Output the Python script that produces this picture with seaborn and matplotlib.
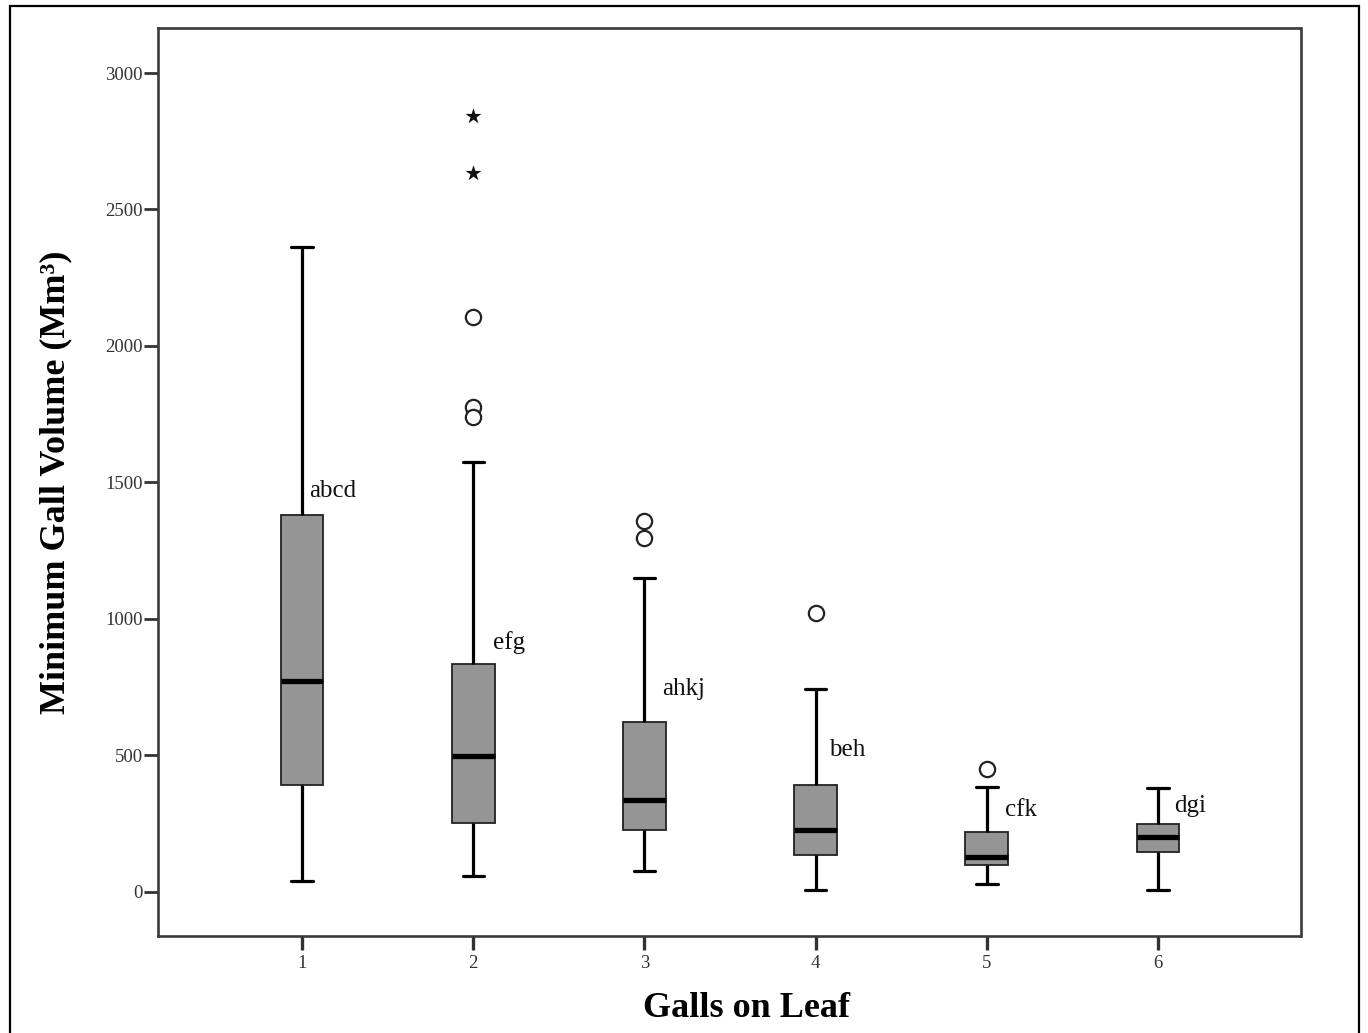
import matplotlib
matplotlib.use("Agg")
import matplotlib.pyplot as plt
from matplotlib.patches import Rectangle
import seaborn as sns
import pandas as pd

# ---- data ----
groups = ["1", "2", "3", "4", "5", "6"]
whisk_low = [38, 57, 75, 5, 29, 5]
q1 = [390, 251, 225, 134, 97, 145]
median = [772, 497, 335, 225, 128, 200]
q3 = [1380, 834, 621, 390, 218, 247]
whisk_high = [2362, 1574, 1149, 742, 384, 380]

circle_groups = ["2", "2", "2", "3", "3", "4", "5"]
circle_values = [2105, 1777, 1740, 1358, 1295, 1021, 449]
star_groups = ["2", "2"]
star_values = [2842, 2632]

letters = ["abcd", "efg", "ahkj", "beh", "cfk", "dgi"]
letter_y = [1468, 911, 742, 519, 299, 314]

# ---- style ----
sns.set_style("ticks")
plt.rcParams["font.family"] = ["Liberation Serif", "DejaVu Serif"]

rows = []
for g, a, b, c, d, e in zip(groups, whisk_low, q1, median, q3, whisk_high):
    for v in (a, b, c, d, e):
        rows.append({"galls": g, "volume": v})
df = pd.DataFrame(rows)
df_circ = pd.DataFrame({"galls": circle_groups, "volume": circle_values})
df_star = pd.DataFrame({"galls": star_groups, "volume": star_values})

fig = plt.figure(figsize=(13.68, 10.33), dpi=100)
ax = fig.add_axes([158 / 1368, 1 - 936 / 1033, (1300.5 - 158) / 1368, (936 - 28) / 1033])

sns.boxplot(data=df, x="galls", y="volume", order=groups, ax=ax,
            width=0.25, whis=(0, 100), showfliers=False,
            color="#959595", saturation=1, linecolor="#1a1a1a", linewidth=1.3,
            medianprops=dict(color="black", linewidth=3.8),
            whiskerprops=dict(color="black", linewidth=2.3),
            capprops=dict(color="black", linewidth=2.3),
            boxprops=dict(edgecolor="#222222", linewidth=1.3))

sns.stripplot(data=df_circ, x="galls", y="volume", order=groups, ax=ax,
              jitter=False, size=11, marker="o", color="white",
              edgecolor="#222222", linewidth=1.6, zorder=5)
sns.stripplot(data=df_star, x="galls", y="volume", order=groups, ax=ax,
              jitter=False, size=12, marker="*", color="#111111",
              linewidth=0, zorder=5)

offsets = [0.041, 0.116, 0.103, 0.078, 0.106, 0.093]
for i, (lab, yv) in enumerate(zip(letters, letter_y)):
    ax.text(i + offsets[i], yv, lab,
            ha="left", va="center", fontsize=18, color="#111111",
            family=["Liberation Serif", "DejaVu Serif"])

ax.set_xlim(-0.841, 5.832)
ax.set_ylim(-163, 3165)
ax.set_yticks([0, 500, 1000, 1500, 2000, 2500, 3000])

for s in ax.spines.values():
    s.set_visible(True)
    s.set_linewidth(1.9)
    s.set_color("#3a3a3a")

ax.tick_params(axis="both", direction="out", length=10, width=2.0,
               color="#333333", labelcolor="#333333", labelsize=13.5)
ax.tick_params(axis="y", pad=1)
ax.tick_params(axis="x", pad=4, width=2.4)

ax.set_xlabel("Galls on Leaf", fontsize=26, fontweight="bold", labelpad=14,
              color="black")
ax.xaxis.label.set_x(0.515)
ax.set_ylabel("Minimum Gall Volume (Mm³)", fontsize=26, fontweight="bold",
              labelpad=24, color="black")

fig.add_artist(Rectangle((9.5 / 1368, -0.02), (1359 - 9.5) / 1368,
                         1 - 5.5 / 1033 + 0.02, transform=fig.transFigure,
                         fill=False, edgecolor="black", linewidth=1.6,
                         clip_on=False))

fig.savefig("out.png", dpi=100, facecolor="white")
